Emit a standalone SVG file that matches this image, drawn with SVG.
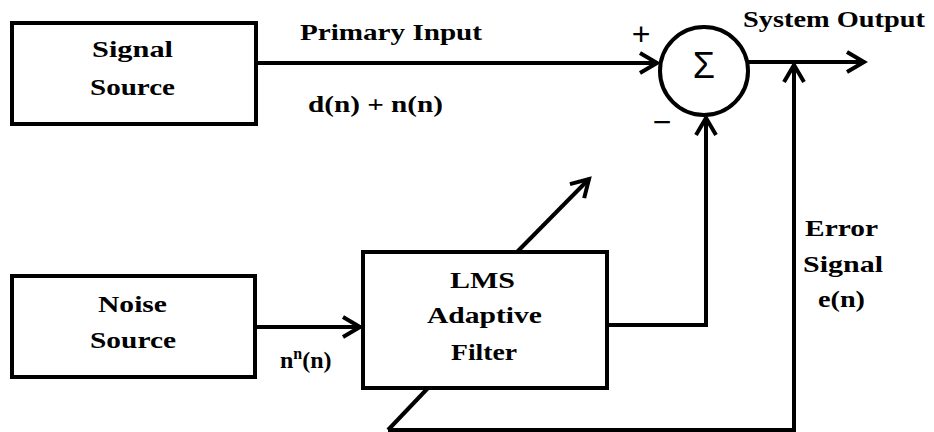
<svg xmlns="http://www.w3.org/2000/svg" width="934" height="432" viewBox="0 0 934 432">
<style>
.box{fill:#fff;stroke:#000;stroke-width:4}
.ln{fill:none;stroke:#000;stroke-width:4}
.t{font-family:"Liberation Serif","Times New Roman",serif;font-weight:bold;font-size:24px;fill:#000}
.s{font-family:"Liberation Sans",Arial,sans-serif;fill:#000}
</style>
<defs>
<marker id="ah" markerUnits="userSpaceOnUse" orient="auto" refX="0" refY="0" markerWidth="30" markerHeight="30" overflow="visible">
<path d="M-17,-10 L0,0 L-17,10" fill="none" stroke="#000" stroke-width="4"/>
</marker>
</defs>
<rect width="934" height="432" fill="#fff"/>
<g id="connectors">
<path class="ln" d="M256,63 H657" marker-end="url(#ah)"/>
<path class="ln" d="M748,62 H864" marker-end="url(#ah)"/>
<path class="ln" d="M255,327 H360" marker-end="url(#ah)"/>
<path class="ln" d="M607,325 H706 V118" marker-end="url(#ah)"/>
<path class="ln" d="M388,430 H794 V65" marker-end="url(#ah)"/>
<path class="ln" d="M388,430 L428,388"/>
<path class="ln" d="M517,252 L589,179" marker-end="url(#ah)"/>
</g>
<g id="signal-source">
<rect class="box" x="12" y="23" width="244" height="101"/>
<text class="t" x="92" y="57" textLength="81" lengthAdjust="spacingAndGlyphs">Signal</text>
<text class="t" x="90" y="95" textLength="85" lengthAdjust="spacingAndGlyphs">Source</text>
</g>
<g id="noise-source">
<rect class="box" x="12" y="276" width="243" height="101"/>
<text class="t" x="98" y="312" textLength="69" lengthAdjust="spacingAndGlyphs">Noise</text>
<text class="t" x="90" y="348" textLength="86" lengthAdjust="spacingAndGlyphs">Source</text>
</g>
<g id="lms-filter">
<rect class="box" x="363" y="252" width="244" height="136"/>
<text class="t" x="450" y="288" textLength="65" lengthAdjust="spacingAndGlyphs">LMS</text>
<text class="t" x="427" y="323" textLength="115" lengthAdjust="spacingAndGlyphs">Adaptive</text>
<text class="t" x="451" y="360" textLength="66" lengthAdjust="spacingAndGlyphs">Filter</text>
</g>
<g id="summer">
<circle cx="704" cy="71" r="44" fill="#fff" stroke="#000" stroke-width="4"/>
<text class="s" x="704" y="78" text-anchor="middle" style="font-size:36px">Σ</text>
<text class="s" x="641" y="45" text-anchor="middle" style="font-size:32px">+</text>
<text class="s" x="662" y="133" text-anchor="middle" style="font-size:32px">−</text>
</g>
<g id="labels">
<text class="t" x="300" y="40" textLength="182" lengthAdjust="spacingAndGlyphs">Primary Input</text>
<text class="t" x="308" y="112" textLength="135" lengthAdjust="spacingAndGlyphs">d(n) + n(n)</text>
<text class="t" x="743" y="27" textLength="182" lengthAdjust="spacingAndGlyphs">System Output</text>
<text class="t" x="805" y="236" textLength="73" lengthAdjust="spacingAndGlyphs">Error</text>
<text class="t" x="803" y="272" textLength="80" lengthAdjust="spacingAndGlyphs">Signal</text>
<text class="t" x="818" y="307" textLength="47" lengthAdjust="spacingAndGlyphs">e(n)</text>
<text class="t" x="280" y="368">n<tspan style="font-size:16px" dy="-9">n</tspan><tspan dy="9">(n)</tspan></text>
</g>
</svg>
